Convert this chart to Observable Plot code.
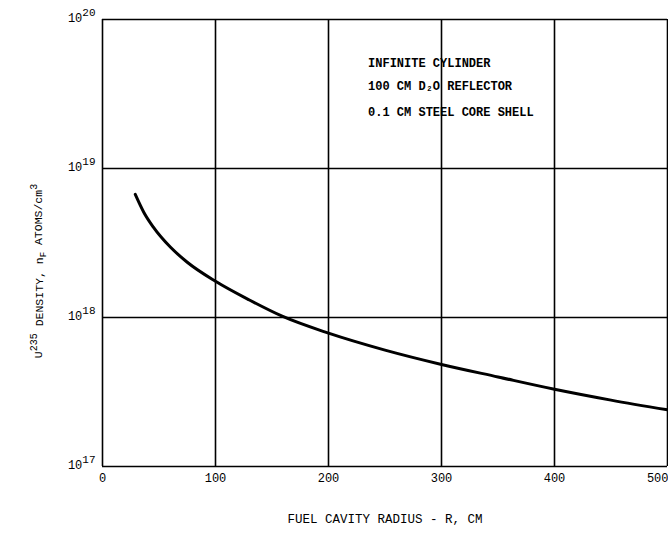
<!DOCTYPE html>
<html><head><meta charset="utf-8">
<script src="https://cdn.jsdelivr.net/npm/d3@7"></script>
<script src="https://cdn.jsdelivr.net/npm/@observablehq/plot@0.6"></script>
<style>body{margin:0;background:#fff}</style>
</head><body><div id="chart"></div>
<script>
// Fuel cavity radius R (cm) and U-235 density n_F (atoms/cm^3)
const radius  = [29, 36.5, 45, 60, 75, 100, 130, 159, 200, 250, 300, 350, 400, 450, 500];
const density = [6.70e18, 5.09e18, 4.04e18, 2.97e18, 2.35e18, 1.75e18, 1.31e18, 1.02e18, 7.85e17, 6.04e17, 4.84e17, 3.99e17, 3.30e17, 2.79e17, 2.40e17];
const xTicks = [0, 100, 200, 300, 400, 500];
const yTicks = [1e17, 1e18, 1e19, 1e20];
const yExponents = ["17", "18", "19", "20"];
const noteLines = ["INFINITE CYLINDER", "100 CM D\u2082O REFLECTOR", "0.1 CM STEEL CORE SHELL"];
const noteDensity = [5.1e19, 3.55e19, 2.38e19];
const noteRadius = 235;
const xTitle = "FUEL CAVITY RADIUS - R, CM";

const data = radius.map((r, i) => ({r, n: density[i]}));
const notes = noteLines.map((t, i) => ({t, n: noteDensity[i]}));

const plot = Plot.plot({
  width: 668, height: 534,
  marginLeft: 102, marginRight: 1, marginTop: 19, marginBottom: 68,
  style: {fontFamily: "Liberation Mono, DejaVu Sans Mono, monospace", fontSize: "12px", color: "black", background: "white"},
  x: {domain: [0, 500], ticks: xTicks, tickSize: 0, tickPadding: 7, label: null, tickFormat: d => String(d)},
  y: {type: "log", domain: [1e17, 1e20], ticks: yTicks, tickSize: 0, tickPadding: 7, label: null,
      tickFormat: d => "10" + yExponents[yTicks.indexOf(d)]},
  marks: [
    Plot.ruleX(xTicks, {stroke: "black", strokeWidth: 1.6}),
    Plot.ruleY(yTicks, {stroke: "black", strokeWidth: 1.6}),
    Plot.line(data, {x: "r", y: "n", curve: "monotone-x", stroke: "black", strokeWidth: 3}),
    Plot.text(notes, {x: () => noteRadius, y: "n", text: "t", textAnchor: "start", fontSize: 12, fontWeight: "bold", fill: "black"})
  ]
});

document.getElementById("chart").appendChild(plot);
const svg = d3.select(plot);

// superscript exponents on y tick labels
svg.selectAll('[aria-label="y-axis tick label"] text').each(function() {
  const t = d3.select(this);
  const s = t.text();
  const exp = s.slice(2);
  t.text("10").attr("dy", "-0.1em");
  t.append("tspan").attr("dy", "-0.55em").attr("font-size", "11px").text(exp);
});

// keep the last x tick label inside the picture
const xl = svg.selectAll('[aria-label="x-axis tick label"] text').nodes();
if (xl.length) d3.select(xl[xl.length - 1]).attr("text-anchor", "end").attr("dx", "1");

// x-axis title
svg.append("text")
  .attr("x", 385).attr("y", 523)
  .attr("text-anchor", "middle")
  .attr("font-size", "12.5px")
  .attr("fill", "black")
  .text(xTitle);

// y-axis title with super/subscripts
const yt = svg.append("text")
  .attr("transform", "translate(42,271) rotate(-90)")
  .attr("text-anchor", "middle")
  .attr("font-size", "11.5px")
  .attr("fill", "black");
yt.append("tspan").text("U");
yt.append("tspan").attr("dy", "-0.5em").attr("font-size", "10px").text("235");
yt.append("tspan").attr("dy", "0.5em").text(" DENSITY, n");
yt.append("tspan").attr("dy", "0.35em").attr("font-size", "9px").text("F");
yt.append("tspan").attr("dy", "-0.35em").text(" ATOMS/cm");
yt.append("tspan").attr("dy", "-0.5em").attr("font-size", "10px").text("3");
</script>
</body></html>
